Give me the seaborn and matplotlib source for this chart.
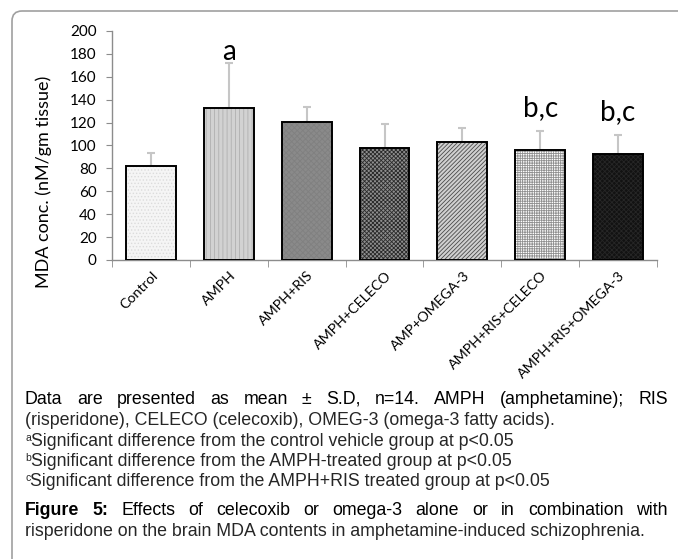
import numpy as np
import pandas as pd
import matplotlib
matplotlib.use("Agg")
import matplotlib.pyplot as plt
import seaborn as sns
from matplotlib.patches import FancyBboxPatch
from matplotlib.transforms import ScaledTranslation

# ---------------- data ----------------
groups = ["Control", "AMPH", "AMPH+RIS", "AMPH+CELECO", "AMP+OMEGA-3",
          "AMPH+RIS+CELECO", "AMPH+RIS+OMEGA-3"]
mda_mean = [82.1, 132.5, 120.8, 97.8, 103.0, 96.0, 92.8]
mda_sd = [11.6, 39.8, 13.1, 21.1, 12.5, 16.4, 16.6]
sig_labels = ["", "a", "", "", "", "b,c", "b,c"]
sig_y = [0, 175, 0, 0, 0, 125.5, 122]
y_ticks = [0, 20, 40, 60, 80, 100, 120, 140, 160, 180, 200]

caption_line1 = "Data are presented as mean ± S.D, n=14. AMPH (amphetamine); RIS"
caption_line2 = "(risperidone), CELECO (celecoxib), OMEG-3 (omega-3 fatty acids)."
foot_marks = ["a", "b", "c"]
foot_texts = ["Significant difference from the control vehicle group at p<0.05",
              "Significant difference from the AMPH-treated group at p<0.05",
              "Significant difference from the AMPH+RIS treated group at p<0.05"]
fig_title = "Figure 5:"
fig_line1 = "Effects of celecoxib or omega-3 alone or in combination with"
fig_line2 = "risperidone on the brain MDA contents in amphetamine-induced schizophrenia."

# ---------------- styles ----------------
face_colors = ['#f5f5f5', '#d2d2d2', '#8a8a8a', '#8e8e8e', '#d0d0d0', '#ffffff', '#121212']
hatch_colors = ['#dcdcdc', '#b0b0b0', '#808080', '#2a2a2a', '#4a4a4a', '#909090', '#262626']
hatches = ['.....', '||||', 'xxxxxx', 'xxxxxxxx', '////////', '+++++++', 'xxxxxxx']

sns.set_style("white")
plt.rcParams['hatch.linewidth'] = 0.6
chart_font = ['Lato', 'DejaVu Sans']
cap_font = ['Liberation Sans Narrow', 'Liberation Sans', 'DejaVu Sans']
plt.rcParams['font.family'] = chart_font

W, H = 678, 559
fig = plt.figure(figsize=(W / 100, H / 100), dpi=100)

def fx(x):
    return x / W

def fy(y):
    return 1 - y / H

ax = fig.add_axes([fx(112), fy(260), 545 / W, 229 / H])

df = pd.DataFrame({"group": groups, "mda": mda_mean})
sns.barplot(data=df, x="group", y="mda", ax=ax, width=0.64, errorbar=None,
            color="white", saturation=1)
for p, fc, hc, h in zip(ax.patches, face_colors, hatch_colors, hatches):
    p.set_facecolor(fc)
    p.set_edgecolor(hc)
    p.set_hatch(h)
    p.set_linewidth(0)
    p.set_zorder(2)

ax.errorbar(np.arange(len(groups)), mda_mean, yerr=[np.zeros(len(groups)), mda_sd],
            fmt='none', ecolor='#c6c6c6', elinewidth=1.5, capsize=2.8, capthick=1.5,
            zorder=1.5)

sns.barplot(data=df, x="group", y="mda", ax=ax, width=0.64, errorbar=None,
            fill=False, color="black", linewidth=1.4)
for p in ax.patches[len(groups):]:
    p.set_zorder(3)

for i, (lab, yy) in enumerate(zip(sig_labels, sig_y)):
    if lab:
        ax.text(i, yy, lab, ha='center', va='baseline', fontsize=20, color='black')

ax.set_ylim(0, 200)
ax.set_xlim(-0.5, len(groups) - 0.5)
ax.set_yticks(y_ticks)
ax.set_xlabel("")
ax.set_ylabel("")
for s in ["top", "right"]:
    ax.spines[s].set_visible(False)
for s in ["left", "bottom"]:
    ax.spines[s].set_color('#8c8c8c')
    ax.spines[s].set_linewidth(1.0)
ax.tick_params(axis='y', direction='out', length=4, color='#8c8c8c', labelsize=11,
               labelcolor='black', pad=7, left=True)
ax.set_xticks(np.arange(len(groups)))
ax.set_xticks(np.arange(len(groups) + 1) - 0.5, minor=True)
ax.tick_params(axis='x', which='major', length=0, pad=4, labelsize=10.3, labelcolor='black')
ax.tick_params(axis='x', which='minor', direction='out', length=5, color='#8c8c8c', bottom=True)
ax.set_xticklabels(groups, rotation=45, ha='right', rotation_mode='anchor', va='center')
for lbl in ax.get_xticklabels():
    lbl.set_transform(lbl.get_transform() + ScaledTranslation(0.05, -0.08, fig.dpi_scale_trans))

fig.text(fx(44), fy(182), "MDA conc. (nM/gm tissue)", rotation=90, ha='center', va='center',
         fontsize=13, color='black')

# frame
frame = FancyBboxPatch((0.12, -0.5), 7.0, (H - 11) / 100 + 0.5,
                       boxstyle="round,pad=0,rounding_size=0.1",
                       transform=fig.dpi_scale_trans, facecolor='none',
                       edgecolor='#a0a0a0', linewidth=1.2)
fig.add_artist(frame)

# captions
cap_size = 12.8
renderer = fig.canvas.get_renderer()

def justified(y, parts, x0=25, x1=668):
    texts = []
    for w, wt in parts:
        t = fig.text(0, fy(y), w, fontsize=cap_size, family=cap_font, weight=wt,
                     va='baseline', ha='left', color='black')
        texts.append(t)
    widths = [t.get_window_extent(renderer).width for t in texts]
    gap = (x1 - x0 - sum(widths)) / (len(texts) - 1)
    x = x0
    for t, wd in zip(texts, widths):
        t.set_x(fx(x))
        x += wd + gap

justified(404, [(w, 'normal') for w in caption_line1.split()])
fig.text(fx(25), fy(425), caption_line2, fontsize=cap_size, family=cap_font, va='baseline')
for k, (m, txt) in enumerate(zip(foot_marks, foot_texts)):
    yb = 446 + 20 * k
    sup = fig.text(fx(25), fy(yb - 5), m, fontsize=7.5, family=cap_font, va='baseline')
    sw = sup.get_window_extent(renderer).width
    fig.text(fx(25 + sw), fy(yb), txt, fontsize=cap_size, family=cap_font, va='baseline')
justified(515, [(w, 'bold') for w in fig_title.split()] + [(w, 'normal') for w in fig_line1.split()])
fig.text(fx(25), fy(536), fig_line2, fontsize=cap_size, family=cap_font, va='baseline')

fig.savefig("out.png", dpi=100)
